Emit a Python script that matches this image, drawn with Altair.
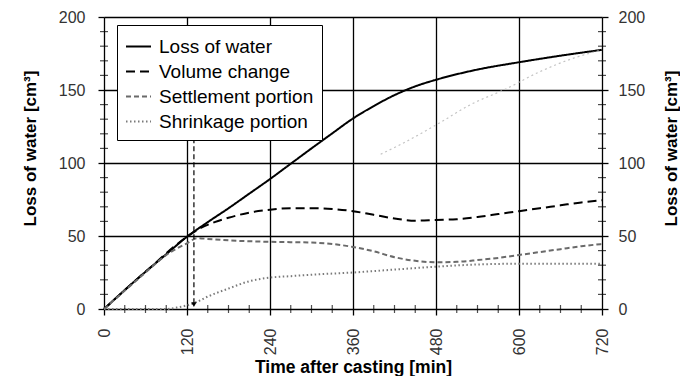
import altair as alt
import pandas as pd

series_names = ["Loss of water", "Volume change", "Settlement portion", "Shrinkage portion"]

loss_t = [0, 30, 60, 90, 120, 150, 180, 210, 240, 270, 300, 330, 360, 390, 420, 450, 480, 540, 600, 660, 720]
loss_v = [0, 13, 25.5, 37.5, 49.5, 59.5, 69, 79, 89, 99.5, 110, 120.3, 130.5, 139, 146.5, 152.5, 157, 164, 169, 173.5, 177.5]

vol_t = [0, 60, 120, 140, 160, 180, 210, 240, 270, 300, 330, 360, 390, 420, 450, 480, 510, 540, 570, 600, 630, 660, 690, 720]
vol_v = [0, 25.5, 49.5, 55.5, 59.5, 62.5, 66, 68, 69, 69, 68.5, 67, 64.5, 62, 60.5, 61, 61.5, 63, 65, 67, 69, 71, 73, 74.5]

set_t = [0, 60, 90, 120, 135, 150, 180, 240, 300, 330, 360, 390, 420, 450, 480, 510, 540, 570, 600, 630, 660, 690, 720]
set_v = [0, 25, 37, 45, 48.5, 48, 47, 46, 45.5, 44.5, 42.5, 39.5, 35.5, 33, 32, 32.3, 33.5, 35, 37, 39, 41, 43, 44.5]

shr_t = [0, 90, 105, 120, 135, 150, 180, 210, 240, 270, 300, 360, 420, 480, 540, 600, 660, 720]
shr_v = [0, 0, 1, 2.5, 5, 8.5, 14, 19, 21.5, 22.5, 23.5, 25, 27, 29, 30.5, 31, 31, 31]

faint_t = [400, 430, 480, 530, 580, 630, 680, 720]
faint_v = [106, 113, 126, 140, 150.5, 162.5, 172, 177.5]

arrow_t = 130
arrow_top = 117
arrow_bottom = 3

x_major = [0, 120, 240, 360, 480, 600, 720]
x_minor = [30, 60, 90, 150, 180, 210, 270, 300, 330, 390, 420, 450, 510, 540, 570, 630, 660, 690]
y_major = [0, 50, 100, 150, 200]
y_minor = [10, 20, 30, 40, 60, 70, 80, 90, 110, 120, 130, 140, 160, 170, 180, 190]

series_colors = ["#000000", "#000000", "#6a6a6a", "#7a7a7a"]
series_dash = [[1, 0], [9, 5], [5, 3], [1.5, 2.5]]
series_width = [2.0, 2.0, 1.5, 1.6]

FONT = "Liberation Sans"

rows = []
for name, ts, vs in [(series_names[0], loss_t, loss_v), (series_names[1], vol_t, vol_v),
                     (series_names[2], set_t, set_v), (series_names[3], shr_t, shr_v)]:
    for t, v in zip(ts, vs):
        rows.append({"series": name, "t": t, "v": v})
df = pd.DataFrame(rows)

xscale = alt.Scale(domain=[0, 720], nice=False)
yscale = alt.Scale(domain=[0, 200], nice=False)

x_axis = alt.Axis(values=x_major, labelAngle=270, labelFontSize=16, labelFont=FONT, labelColor="#333",
                  tickSize=6, tickColor="black", tickWidth=1.3, labelPadding=13,
                  grid=True, gridColor="black", gridWidth=1.3, domain=False,
                  title="Time after casting [min]", titleFont=FONT, titleFontSize=17.5,
                  titleFontWeight="bold", titleColor="black", titleX=249, titleY=63,
                  titleBaseline="alphabetic", titleAlign="center")
y_axis_left = alt.Axis(values=y_major, labelFontSize=16, labelFont=FONT, labelColor="#333",
                       tickSize=6, tickColor="black", tickWidth=1.3, labelPadding=13,
                       grid=True, gridColor="black", gridWidth=1.3, domain=False,
                       title="Loss of water [cm³]", titleFont=FONT, titleFontSize=17,
                       titleFontWeight="bold", titleColor="black", titleAngle=270,
                       titleX=-74, titleY=131, titleAlign="center", titleBaseline="middle")
y_axis_right = alt.Axis(orient="right", values=y_major, labelFontSize=16, labelFont=FONT, labelColor="#333",
                        tickSize=6, tickColor="black", tickWidth=1.3, labelPadding=10,
                        grid=False, domain=False,
                        title="Loss of water [cm³]", titleFont=FONT, titleFontSize=17,
                        titleFontWeight="bold", titleColor="black", titleAngle=270,
                        titleX=69, titleY=131, titleAlign="center", titleBaseline="middle")

lines = alt.Chart(df).mark_line(interpolate="monotone").encode(
    x=alt.X("t:Q", scale=xscale, axis=x_axis),
    y=alt.Y("v:Q", scale=yscale, axis=y_axis_left),
    color=alt.Color("series:N", scale=alt.Scale(domain=series_names, range=series_colors),
                    sort=series_names,
                    legend=alt.Legend(title=None, orient="none", legendX=13, legendY=8,
                                      strokeColor="black", fillColor="white", padding=8,
                                      labelFont=FONT, labelFontSize=19, labelColor="black",
                                      symbolType="stroke", symbolSize=625, labelOffset=7,
                                      rowPadding=1, labelLimit=300)),
    strokeDash=alt.StrokeDash("series:N", scale=alt.Scale(domain=series_names, range=series_dash),
                              sort=series_names),
    strokeWidth=alt.StrokeWidth("series:N", scale=alt.Scale(domain=series_names, range=series_width),
                                sort=series_names),
    order="t:Q",
)

faint = alt.Chart(pd.DataFrame({"t": faint_t, "v": faint_v})).mark_line(
    color="#c4c4c4", strokeDash=[2, 3], strokeWidth=1.2, interpolate="monotone"
).encode(x=alt.X("t:Q", scale=xscale, axis=None), y=alt.Y("v:Q", scale=yscale, axis=None))

arrow_df = pd.DataFrame({"t": [arrow_t], "top": [arrow_top], "bottom": [arrow_bottom]})
arrow_rule = alt.Chart(arrow_df).mark_rule(color="black", strokeDash=[5, 3], strokeWidth=1.2).encode(
    x=alt.X("t:Q", scale=xscale, axis=None),
    y=alt.Y("top:Q", scale=yscale, axis=None),
    y2="bottom:Q",
)
arrow_head = alt.Chart(arrow_df).mark_point(shape="triangle-down", filled=True, color="black",
                                            size=28, opacity=1).encode(
    x=alt.X("t:Q", scale=xscale, axis=None),
    y=alt.Y("bottom:Q", scale=yscale, axis=None),
)

ymin_df = pd.DataFrame({"v": y_minor})
left_minor = alt.Chart(ymin_df).mark_tick(orient="horizontal", size=8, thickness=1.2, color="black").encode(
    y=alt.Y("v:Q", scale=yscale, axis=None),
    x=alt.datum(0, scale=xscale, axis=None),
)
right_minor = alt.Chart(ymin_df).mark_tick(orient="horizontal", size=8, thickness=1.2, color="black").encode(
    y=alt.Y("v:Q", scale=yscale, axis=y_axis_right),
    x=alt.datum(720, scale=xscale, axis=None),
)
xmin_df = pd.DataFrame({"t": x_minor})
bottom_minor = alt.Chart(xmin_df).mark_tick(orient="vertical", size=8, thickness=1.2, color="black").encode(
    x=alt.X("t:Q", scale=xscale, axis=None),
    y=alt.datum(0, scale=yscale, axis=None),
)

chart = alt.layer(lines, faint, arrow_rule, arrow_head, left_minor, bottom_minor, right_minor).resolve_axis(
    y="independent", x="independent"
).properties(
    width=498, height=292,
    autosize=alt.AutoSizeParams(type="none"),
    padding={"left": 96, "top": 9, "right": 78, "bottom": 67},
).configure_view(stroke="black", strokeWidth=1.5).configure(background="white")

chart.save("out.html", embed_options={"renderer": "svg", "actions": False})
